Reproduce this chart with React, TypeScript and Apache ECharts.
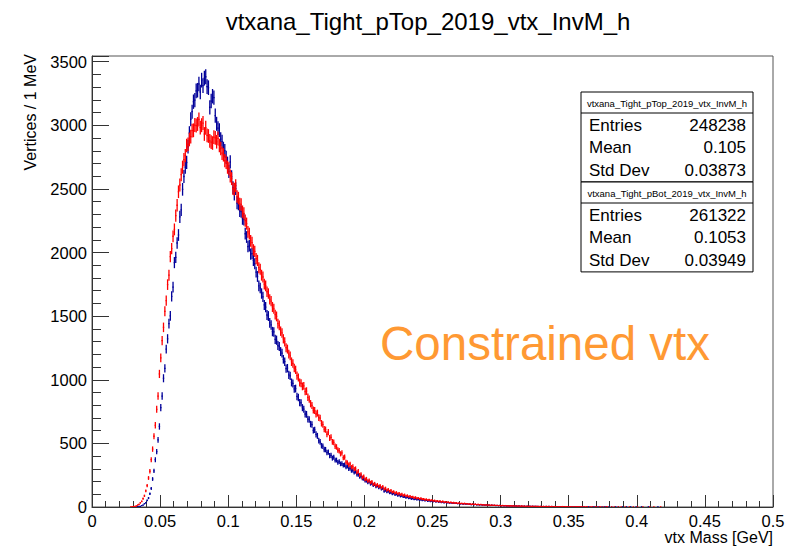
import React, { useEffect, useRef } from "react";
import * as echarts from "echarts";

// Histogram binning: 1 MeV bins, first bin starts at 28 MeV
const BIN_START_MEV = 28;
const BIN_WIDTH_MEV = 1;

// vtxana_Tight_pTop_2019_vtx_InvM_h (blue), counts per 1 MeV bin from 28 MeV
const topCounts = [
  0, 0,
  0, 0, 1, 2, 4, 5, 11, 15, 26, 33,
  52, 70, 104, 146, 220, 284, 372, 436, 528, 633,
  781, 872, 1012, 1090, 1241, 1322, 1441, 1502, 1655, 1728,
  1921, 1962, 2075, 2138, 2281, 2336, 2497, 2598, 2672, 2708,
  2831, 2939, 3048, 3107, 3186, 3198, 3271, 3276, 3325, 3262,
  3355, 3312, 3371, 3382, 3304, 3296, 3142, 3191, 3229, 3218,
  3076, 3012, 2978, 2962, 2891, 2872, 2818, 2801, 2748, 2702,
  2638, 2712, 2596, 2511, 2458, 2503, 2389, 2381, 2328, 2322,
  2266, 2261, 2148, 2122, 2047, 2053, 1988, 1992, 1938, 1912,
  1846, 1812, 1738, 1722, 1678, 1652, 1588, 1571, 1509, 1501,
  1447, 1431, 1379, 1376, 1318, 1311, 1269, 1262, 1222, 1209,
  1161, 1142, 1088, 1091, 1038, 1031, 979, 971, 928, 931,
  869, 861, 821, 818, 781, 769, 731, 728, 691, 688,
  652, 648, 602, 607, 571, 559, 522, 511, 482, 478,
  452, 451, 428, 431, 404, 406, 384, 391, 368, 369,
  351, 356, 339, 341, 328, 331, 314, 321, 301, 304,
  286, 288, 271, 279, 256, 254, 238, 241, 224, 221,
  207, 206, 192, 199, 181, 186, 171, 178, 161, 166,
  151, 157, 141, 146, 124, 131, 119, 124, 111, 113,
  103, 108, 97, 101, 90, 95, 84, 88, 79, 81,
  74, 78, 69, 72, 64, 68, 60, 65, 58, 61,
  55, 59, 53, 57, 50, 54, 47, 51, 44, 48,
  43, 46, 41, 44, 38, 42, 36, 40, 34, 37,
  33, 35, 31, 34, 29, 32, 28, 30, 26, 29,
  25, 27, 23, 26, 22, 24, 21, 23, 19, 22,
  18, 21, 17, 19, 16, 18, 15, 17, 14, 16,
  13, 15, 12, 14, 12, 13, 11, 12, 10, 12,
  9, 11, 9, 10, 8, 10, 8, 9, 7, 9,
  7, 8, 6, 8, 6, 7, 5, 7, 5, 6,
  5, 6, 4, 6, 4, 5, 4, 5, 3, 5,
  3, 4, 3, 4, 3, 4, 2, 4, 2, 3,
  2, 3, 2, 3, 2, 3, 2, 2, 1, 3,
  1, 2, 1, 2, 1, 2, 1, 2, 1, 1,
  1, 1, 0, 2, 1, 1, 0, 1, 1, 1,
  0, 1, 1, 0, 1, 0, 1, 1, 0, 1,
  0, 1, 0, 0, 1, 0, 1, 0, 0, 1,
  0, 0, 1, 0, 0, 1, 0, 0, 0, 1,
  0, 0, 0, 1, 0, 0, 0, 0, 1, 0,
  0, 0, 0, 0, 0, 1, 0, 0, 0, 0,
];

// vtxana_Tight_pBot_2019_vtx_InvM_h (red), counts per 1 MeV bin from 28 MeV
const botCounts = [
  1, 2,
  3, 5, 8, 15, 21, 33, 44, 66, 88, 127,
  168, 228, 281, 372, 455, 556, 642, 768, 872, 1046,
  1172, 1308, 1412, 1538, 1622, 1748, 1822, 1968, 2031, 2128,
  2182, 2291, 2372, 2478, 2531, 2612, 2671, 2731, 2762, 2842,
  2851, 2889, 2912, 2958, 2961, 3002, 2998, 3011, 3046, 2982,
  3001, 3018, 2932, 2981, 2921, 2916, 2878, 2868, 2861, 2908,
  2902, 2871, 2898, 2842, 2818, 2781, 2768, 2722, 2709, 2671,
  2659, 2602, 2581, 2502, 2498, 2526, 2441, 2428, 2382, 2378,
  2322, 2308, 2251, 2228, 2162, 2148, 2092, 2078, 2021, 2009,
  1952, 1938, 1881, 1868, 1822, 1808, 1752, 1738, 1692, 1678,
  1632, 1618, 1572, 1558, 1512, 1498, 1442, 1428, 1382, 1368,
  1322, 1298, 1252, 1241, 1202, 1188, 1142, 1128, 1092, 1078,
  1032, 1018, 978, 972, 948, 952, 908, 911, 862, 848,
  812, 798, 762, 758, 731, 738, 702, 698, 658, 648,
  612, 608, 572, 588, 542, 548, 512, 508, 478, 472,
  448, 442, 418, 425, 388, 392, 352, 348, 331, 338,
  312, 318, 298, 302, 272, 281, 252, 258, 232, 240,
  218, 222, 204, 209, 192, 198, 178, 184, 168, 176,
  162, 168, 151, 160, 141, 148, 132, 138, 124, 130,
  116, 121, 109, 114, 103, 108, 97, 101, 91, 96,
  86, 90, 81, 86, 77, 80, 72, 76, 68, 71,
  64, 68, 61, 63, 57, 60, 54, 57, 51, 54,
  48, 51, 45, 48, 43, 46, 40, 44, 38, 41,
  36, 39, 34, 37, 32, 35, 30, 33, 28, 31,
  27, 29, 25, 28, 24, 26, 22, 25, 21, 23,
  20, 22, 19, 21, 17, 20, 16, 18, 15, 17,
  14, 16, 13, 15, 13, 14, 12, 13, 11, 12,
  10, 12, 9, 11, 9, 10, 8, 10, 8, 9,
  7, 9, 7, 8, 6, 8, 6, 7, 5, 7,
  5, 6, 5, 6, 4, 6, 4, 5, 4, 5,
  3, 5, 3, 4, 3, 4, 3, 4, 2, 3,
  2, 3, 2, 3, 2, 3, 2, 2, 2, 3,
  1, 2, 1, 2, 1, 2, 1, 2, 1, 2,
  1, 1, 1, 2, 0, 1, 1, 1, 0, 1,
  1, 0, 1, 1, 0, 1, 0, 1, 1, 0,
  0, 1, 0, 1, 0, 0, 1, 0, 1, 0,
  0, 1, 0, 0, 1, 0, 0, 1, 0, 0,
  1, 0, 0, 0, 1, 0, 0, 0, 0, 1,
  0, 0, 1, 0, 0, 0, 0, 1, 0, 0,
];

const titleText = "vtxana_Tight_pTop_2019_vtx_InvM_h";
const xAxisTitle = "vtx Mass [GeV]";
const yAxisTitle = "Vertices / 1 MeV";
const annotation = "Constrained vtx";

const statLabels = ["Entries", "Mean", "Std Dev"];
const topStatsName = "vtxana_Tight_pTop_2019_vtx_InvM_h";
const topStatsValues = ["248238", "0.105", "0.03873"];
const botStatsName = "vtxana_Tight_pBot_2019_vtx_InvM_h";
const botStatsValues = ["261322", "0.1053", "0.03949"];

const X_MIN = 0;
const X_MAX = 0.5;
const X_INTERVAL = 0.05;
const Y_MIN = 0;
const Y_MAX = 3545;
const Y_INTERVAL = 500;
const Y_MINOR_INTERVAL = 100;

const TOP_COLOR = "#000099";
const BOT_COLOR = "#ff0000";
const FONT = '"Liberation Sans", Arial, Helvetica, sans-serif';

function toData(counts: number[]) {
  const out: number[][] = [];
  counts.forEach((v, i) => {
    if (v > 0) out.push([(BIN_START_MEV + (i + 0.5) * BIN_WIDTH_MEV) / 1000, v]);
  });
  return out;
}

function makeRender(color: string) {
  return (_params: any, api: any) => {
    const x = api.value(0) as number;
    const v = api.value(1) as number;
    const e = Math.sqrt(v);
    const half = BIN_WIDTH_MEV / 2000;
    const l = api.coord([x - half, v]);
    const r = api.coord([x + half, v]);
    const t = api.coord([x, v + e]);
    const b = api.coord([x, Math.max(0, v - e)]);
    return {
      type: "group",
      children: [
        {
          type: "line",
          shape: { x1: l[0], y1: l[1], x2: r[0], y2: r[1] },
          style: { stroke: color, lineWidth: 1.3 },
        },
        {
          type: "line",
          shape: { x1: t[0], y1: t[1], x2: b[0], y2: b[1] },
          style: { stroke: color, lineWidth: 1.3 },
        },
      ],
    };
  };
}

function statsBox(top: number, name: string, values: string[]) {
  const left = 581;
  const width = 172;
  const headerH = 21;
  const rowH = 22.3;
  const height = headerH + rowH * 3 + 2;
  const children: any[] = [
    {
      type: "rect",
      shape: { x: left, y: top, width, height },
      style: { fill: "#fff", stroke: "#000", lineWidth: 1 },
    },
    {
      type: "line",
      shape: { x1: left, y1: top + headerH, x2: left + width, y2: top + headerH },
      style: { stroke: "#000", lineWidth: 1 },
    },
    {
      type: "text",
      style: {
        x: left + width / 2,
        y: top + headerH / 2 + 0.5,
        text: name,
        font: `9.5px ${FONT}`,
        fill: "#000",
        align: "center",
        verticalAlign: "middle",
        textAlign: "center",
        textVerticalAlign: "middle",
      },
    },
  ];
  statLabels.forEach((lab, i) => {
    const cy = top + headerH + rowH * (i + 0.5) + 1.5;
    children.push({
      type: "text",
      style: {
        x: left + 8,
        y: cy,
        text: lab,
        font: `17px ${FONT}`,
        fill: "#000",
        align: "left",
        verticalAlign: "middle",
        textAlign: "left",
        textVerticalAlign: "middle",
      },
    });
    children.push({
      type: "text",
      style: {
        x: left + width - 7,
        y: cy,
        text: values[i],
        font: `17px ${FONT}`,
        fill: "#000",
        align: "right",
        verticalAlign: "middle",
        textAlign: "right",
        textVerticalAlign: "middle",
      },
    });
  });
  return { type: "group", children, z: 100 };
}

export default function App() {
  const ref = useRef<HTMLDivElement>(null);

  useEffect(() => {
    if (!ref.current) return;
    const chart = echarts.init(ref.current, undefined, { renderer: "svg" });

    const option: any = {
      animation: false,
      backgroundColor: "#fff",
      textStyle: { fontFamily: FONT },
      grid: {
        left: 92,
        top: 56,
        width: 681,
        height: 451,
        show: true,
        borderColor: "#555",
        borderWidth: 1,
        backgroundColor: "transparent",
        containLabel: false,
      },
      xAxis: {
        type: "value",
        min: X_MIN,
        max: X_MAX,
        interval: X_INTERVAL,
        axisLine: { show: true, lineStyle: { color: "#333", width: 1 } },
        axisTick: { show: true, inside: true, length: 12, lineStyle: { color: "#333" } },
        minorTick: { show: true, splitNumber: 5, length: 6, lineStyle: { color: "#333" } },
        splitLine: { show: false },
        minorSplitLine: { show: false },
        axisLabel: {
          color: "#000",
          fontSize: 16.5,
          fontFamily: FONT,
          margin: 5,
          formatter: (v: number) => String(Math.round(v * 100) / 100),
        },
      },
      yAxis: [
        {
          type: "value",
          min: Y_MIN,
          max: Y_MAX,
          interval: Y_INTERVAL,
          axisLine: { show: true, lineStyle: { color: "#333", width: 1 } },
          axisTick: { show: true, inside: true, length: 17, lineStyle: { color: "#333" } },
          splitLine: { show: false },
          axisLabel: {
            color: "#000",
            fontSize: 16.5,
            fontFamily: FONT,
            margin: 5,
            formatter: (v: number) => (v % Y_INTERVAL === 0 ? String(v) : ""),
          },
        },
        {
          type: "value",
          min: Y_MIN,
          max: Y_MAX,
          interval: Y_MINOR_INTERVAL,
          position: "left",
          axisLine: { show: false },
          axisTick: { show: true, inside: true, length: 9, lineStyle: { color: "#333" } },
          splitLine: { show: false },
          axisLabel: { show: false },
        },
      ],
      series: [
        {
          type: "custom",
          name: "pTop",
          renderItem: makeRender(TOP_COLOR),
          data: toData(topCounts),
          encode: { x: 0, y: 1 },
          clip: true,
          silent: true,
          z: 2,
        },
        {
          type: "custom",
          name: "pBot",
          renderItem: makeRender(BOT_COLOR),
          data: toData(botCounts),
          encode: { x: 0, y: 1 },
          clip: true,
          silent: true,
          z: 3,
        },
      ],
      graphic: [
        {
          type: "text",
          style: {
            x: 428,
            y: 21,
            text: titleText,
            font: `24px ${FONT}`,
            fill: "#000",
            align: "center",
            verticalAlign: "middle",
            textAlign: "center",
            textVerticalAlign: "middle",
          },
        },
        {
          type: "text",
          style: {
            x: 773,
            y: 537,
            text: xAxisTitle,
            font: `16px ${FONT}`,
            fill: "#000",
            align: "right",
            verticalAlign: "middle",
            textAlign: "right",
            textVerticalAlign: "middle",
          },
        },
        {
          type: "text",
          x: 30,
          y: 54,
          rotation: Math.PI / 2,
          style: {
            x: 0,
            y: 0,
            text: yAxisTitle,
            font: `16px ${FONT}`,
            fill: "#000",
            align: "right",
            verticalAlign: "middle",
            textAlign: "right",
            textVerticalAlign: "middle",
          },
        },
        {
          type: "text",
          style: {
            x: 380,
            y: 343,
            text: annotation,
            font: `47.5px ${FONT}`,
            fill: "#ff9933",
            align: "left",
            verticalAlign: "middle",
            textAlign: "left",
            textVerticalAlign: "middle",
          },
          z: 50,
        },
        statsBox(92, topStatsName, topStatsValues),
        statsBox(182, botStatsName, botStatsValues),
      ],
    };

    chart.setOption(option);
    return () => {
      chart.dispose();
    };
  }, []);

  return (
    <div
      ref={ref}
      style={{ position: "fixed", left: 0, top: 0, width: 796, height: 549, background: "#fff" }}
    />
  );
}
